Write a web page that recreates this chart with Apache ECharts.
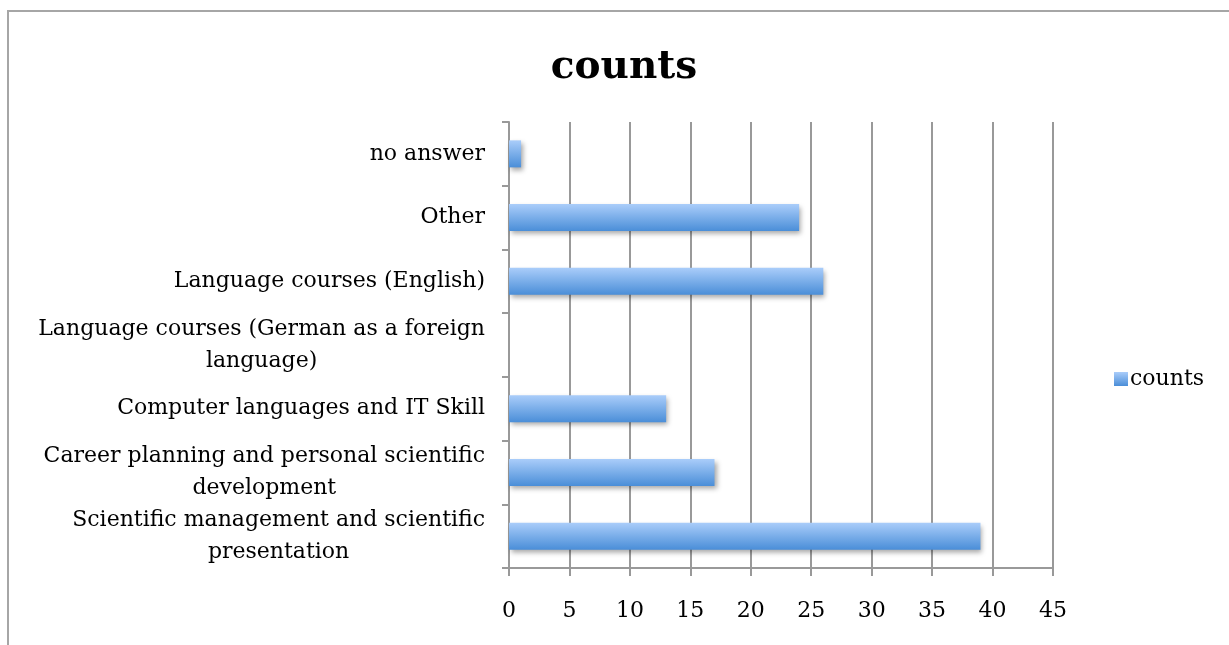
<!DOCTYPE html>
<html>
<head>
<meta charset="utf-8">
<script src="https://cdn.jsdelivr.net/npm/echarts@6/dist/echarts.min.js"></script>
<style>
html,body{margin:0;padding:0;background:#fff;}
#chart{width:1229px;height:645px;}
</style>
</head>
<body>
<div id="chart"></div>
<script>
var categories = [
  "no answer",
  "Other",
  "Language courses (English)",
  "Language courses (German as a foreign\nlanguage)",
  "Computer languages and IT Skill",
  "Career planning and personal scientific\ndevelopment",
  "Scientific management and scientific\npresentation"
];
var counts = [1, 24, 26, 0, 13, 17, 39];
var xTicks = { min: 0, max: 45, interval: 5 };

var FONT = '"DejaVu Serif", serif';
var chart = echarts.init(document.getElementById('chart'));
var barColor = new echarts.graphic.LinearGradient(0, 0, 0, 1, [
  { offset: 0, color: '#aacdfa' },
  { offset: 1, color: '#4a8ed8' }
]);
chart.setOption({
  animation: false,
  backgroundColor: '#fff',
  title: {
    text: 'counts',
    left: 619,
    textAlign: 'center',
    top: 43,
    textStyle: { fontFamily: FONT, fontSize: 39, fontWeight: 'bold', color: '#000' }
  },
  legend: {
    data: ['counts'],
    left: 1109,
    top: 363,
    icon: 'rect',
    itemWidth: 14,
    itemHeight: 14,
    itemGap: 5,
    textStyle: { fontFamily: FONT, fontSize: 22, color: '#000', padding: [0, 0, 0, -3] }
  },
  grid: { left: 509, right: 176, top: 122, bottom: 77 },
  xAxis: {
    type: 'value',
    min: xTicks.min,
    max: xTicks.max,
    interval: xTicks.interval,
    axisLine: { show: true, lineStyle: { color: '#999', width: 2 } },
    axisTick: { show: true, length: 8, lineStyle: { color: '#999', width: 2 } },
    splitLine: { show: true, lineStyle: { color: '#999', width: 2 } },
    axisLabel: { fontFamily: FONT, fontSize: 22, color: '#000', margin: 32 }
  },
  yAxis: {
    type: 'category',
    inverse: true,
    data: categories,
    axisLine: { show: true, lineStyle: { color: '#999', width: 2 } },
    axisTick: { show: true, length: 7, interval: 0, lineStyle: { color: '#999', width: 2 } },
    axisLabel: {
      interval: 0,
      hideOverlap: false,
      fontFamily: FONT, fontSize: 22, color: '#000', margin: 24, lineHeight: 32,
      formatter: function (v) {
        return v.split('\n').map(function (l) { return '{c|' + l + '}'; }).join('\n');
      },
      rich: { c: { align: 'center', fontFamily: FONT, fontSize: 22, color: '#000', lineHeight: 32 } }
    }
  },
  graphic: [{
    type: 'rect',
    shape: { x: 8, y: 11, width: 1400, height: 800 },
    style: { fill: null, stroke: '#a6a6a6', lineWidth: 2 },
    silent: true,
    z: 100
  }],
  series: [{
    name: 'counts',
    type: 'bar',
    data: counts,
    barWidth: 27,
    itemStyle: {
      color: barColor,
      shadowColor: 'rgba(0,0,0,0.35)',
      shadowBlur: 5,
      shadowOffsetX: 2,
      shadowOffsetY: 3
    }
  }]
});
</script>
</body>
</html>
